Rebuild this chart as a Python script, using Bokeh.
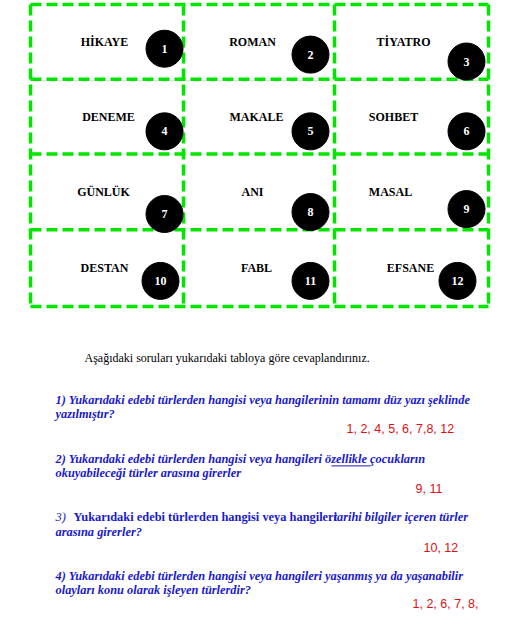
from bokeh.plotting import figure
from bokeh.models import Range1d
from bokeh.core.properties import value
from bokeh.embed import file_html
from bokeh.resources import INLINE

# table grid (page pixels)
col_edges = [30, 183, 334, 488]
row_edges = [4, 80, 156, 233, 311]

genres = ["HİKAYE", "ROMAN", "TİYATRO", "DENEME", "MAKALE", "SOHBET",
          "GÜNLÜK", "ANI", "MASAL", "DESTAN", "FABL", "EFSANE"]
genre_x = [104, 252, 403, 108, 256, 393, 103, 252, 390, 104, 256, 410]
genre_y = [42, 42, 42, 118, 118, 118, 195, 195, 195, 272, 272, 272]
numbers = [str(i) for i in range(1, 13)]
num_x = [164, 310, 466, 164, 310, 466, 164, 310, 466, 160, 310, 457]
num_y = [49, 55, 62, 133, 133, 133, 217, 215, 212, 285, 285, 285]

intro = "Aşağıdaki  soruları  yukarıdaki  tabloya  göre  cevaplandırınız."

q_lines = [
    "1)  Yukarıdaki edebi türlerden hangisi veya hangilerinin  tamamı  düz yazı şeklinde",
    "      yazılmıştır?",
    "2)   Yukarıdaki edebi türlerden hangisi veya hangileri özellikle  çocukların",
    "      okuyabileceği  türler arasına girerler",
    "4)   Yukarıdaki edebi türlerden  hangisi veya  hangileri yaşanmış ya da yaşanabilir",
    "olayları konu olarak işleyen  türlerdir?",
]
q_x = [55, 55, 55, 55, 55, 55]
q_y = [406, 420, 466, 480, 585, 599]

answers = ["1, 2, 4, 5, 6, 7,8, 12", "9, 11", "10, 12", "1, 2, 6, 7, 8,"]
ans_x = [346, 415, 423, 412]
ans_y = [436, 496, 556, 613]

green = "#00e600"
p = figure(width=511, height=611, output_backend="svg", toolbar_location=None,
           x_range=Range1d(0, 511), y_range=Range1d(621, 0), min_border=0)
p.axis.visible = False
p.grid.visible = False
p.outline_line_color = None

for x in col_edges:
    p.segment(x0=x, y0=row_edges[0], x1=x, y1=row_edges[-1], line_color=green,
              line_width=3.5, line_dash="11 5")
for y in row_edges:
    p.segment(x0=col_edges[0], y0=y, x1=col_edges[-1], y1=y, line_color=green,
              line_width=3.5, line_dash="11 5")

p.text(x=genre_x, y=genre_y, text=genres, text_align="center", text_baseline="middle",
       text_font=value("Liberation Serif"), text_font_style="bold", text_font_size="12px")
p.scatter(x=num_x, y=num_y, size=37, color="black")
p.text(x=num_x, y=num_y, text=numbers, text_align="center", text_baseline="middle",
       text_color="white", text_font=value("Liberation Serif"), text_font_style="bold",
       text_font_size="12px")

p.text(x=[84], y=[363], text=[intro], text_baseline="middle",
       text_font=value("Liberation Serif"), text_font_size="12px")

p.text(x=q_x, y=q_y, text=q_lines, text_baseline="middle", text_color="#1a1acc",
       text_font=value("Liberation Serif"), text_font_style="bold italic",
       text_font_size="12.4px")
p.segment(x0=[331], y0=[473], x1=[370], y1=[473], line_color="#1a1acc", line_width=1)

p.text(x=[55, 73, 333], y=[525, 525, 525],
       text=["3)", "Yukarıdaki edebi türlerden  hangisi veya hangileri",
             "tarihi bilgiler  içeren türler"],
       text_baseline="middle", text_color="#1a1acc",
       text_font=value("Liberation Serif"),
       text_font_style=["italic", "bold", "bold italic"], text_font_size="12.4px")
p.text(x=[55], y=[540], text=["arasına girerler?"], text_baseline="middle",
       text_color="#1a1acc", text_font=value("Liberation Serif"),
       text_font_style="bold italic", text_font_size="12.4px")

p.text(x=ans_x, y=ans_y, text=answers, text_baseline="middle", text_color="#e01010",
       text_font=value("Liberation Sans"), text_font_size="12.5px")

open("out.html", "w").write(file_html(p, INLINE))
